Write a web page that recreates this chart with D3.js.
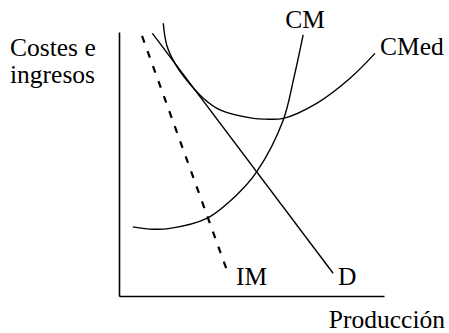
<!DOCTYPE html>
<html>
<head>
<meta charset="utf-8">
<script src="https://cdn.jsdelivr.net/npm/d3@7"></script>
<style>
  body { margin: 0; background: #fff; }
  text { font-family: "Liberation Serif", "Times New Roman", serif; font-size: 25.5px; fill: #000; }
</style>
</head>
<body>
<div id="chart"></div>
<script>
// curve points in chart units (0-100 on both axes)
var cmPoints = [[5.2, 26.2], [12.9, 25.3], [19.2, 25.6], [33.1, 29.4], [44.4, 38.3], [52.0, 47.1], [62.0, 66.7], [65.8, 81.8], [69.5, 98.9]]
var cmedPoints = [[16.7, 103.3], [18.0, 95.1], [21.1, 88.1], [25.5, 81.8], [31.8, 74.9], [38.1, 70.5], [50.7, 67.3], [55.1, 67.0], [62.0, 67.3], [74.6, 73.0], [87.2, 82.5], [96.6, 91.9]]
var dPoints = [[12.6, 99.5], [80.8, 8.6]]
var imPoints = [[8.7, 98.5], [41.1, 8.7]]
var curveLabels = ['CM', 'CMed', 'D', 'IM']
var yTitle = ['Costes e', 'ingresos']
var xTitle = 'Producción'

var svgWidth = 449
var svgHeight = 333

var margin = {top: 32, left: 119, right: 65, bottom: 37}
var width = svgWidth - margin.left - margin.right
var height = svgHeight - margin.top - margin.bottom

var svg = d3.select('#chart')
  .append('svg')
  .attr('width', svgWidth)
  .attr('height', svgHeight)

var chartGroup = svg.append('g')
  .attr('transform', `translate(${margin.left},${margin.top})`)

var xScale = d3.scaleLinear().domain([0, 100]).range([0, width])
var yScale = d3.scaleLinear().domain([0, 100]).range([height, 0])

// axes: just the two lines, no ticks
chartGroup.append('g')
  .attr('transform', `translate(0,${height})`)
  .call(d3.axisBottom(xScale).ticks(0).tickSizeOuter(0))
chartGroup.append('g')
  .call(d3.axisLeft(yScale).ticks(0).tickSizeOuter(0))
chartGroup.selectAll('.domain').attr('stroke', '#000').attr('stroke-width', 1.6)

var smooth = d3.line()
  .x(d => xScale(d[0]))
  .y(d => yScale(d[1]))
  .curve(d3.curveCatmullRom)

var straight = d3.line()
  .x(d => xScale(d[0]))
  .y(d => yScale(d[1]))

chartGroup.append('path').attr('d', smooth(cmPoints))
  .attr('fill', 'none').attr('stroke', '#000').attr('stroke-width', 1.4)
chartGroup.append('path').attr('d', smooth(cmedPoints))
  .attr('fill', 'none').attr('stroke', '#000').attr('stroke-width', 1.4)
chartGroup.append('path').attr('d', straight(dPoints))
  .attr('fill', 'none').attr('stroke', '#000').attr('stroke-width', 1.4)
chartGroup.append('path').attr('d', straight(imPoints))
  .attr('fill', 'none').attr('stroke', '#000').attr('stroke-width', 2.2)
  .attr('stroke-dasharray', '7,9')

// curve labels, placed off the end of each curve
var cmEnd = cmPoints[cmPoints.length - 1]
var cmedEnd = cmedPoints[cmedPoints.length - 1]
var dEnd = dPoints[dPoints.length - 1]
var imEnd = imPoints[imPoints.length - 1]

chartGroup.append('text')
  .attr('x', xScale(cmEnd[0]) + 2).attr('y', yScale(cmEnd[1]) - 7)
  .attr('text-anchor', 'middle').text(curveLabels[0])
chartGroup.append('text')
  .attr('x', xScale(cmedEnd[0]) + 5).attr('y', yScale(cmedEnd[1]) + 2)
  .text(curveLabels[1])
chartGroup.append('text')
  .attr('x', xScale(dEnd[0]) + 5).attr('y', yScale(dEnd[1]) + 12)
  .text(curveLabels[2])
chartGroup.append('text')
  .attr('x', xScale(imEnd[0]) + 8).attr('y', yScale(imEnd[1]) + 12)
  .text(curveLabels[3])

// axis titles
svg.append('text')
  .attr('x', 10).attr('y', 56)
  .text(yTitle[0])
svg.append('text')
  .attr('x', 10).attr('y', 83)
  .text(yTitle[1])
svg.append('text')
  .attr('x', 445).attr('y', 328)
  .attr('text-anchor', 'end')
  .text(xTitle)
</script>
</body>
</html>
